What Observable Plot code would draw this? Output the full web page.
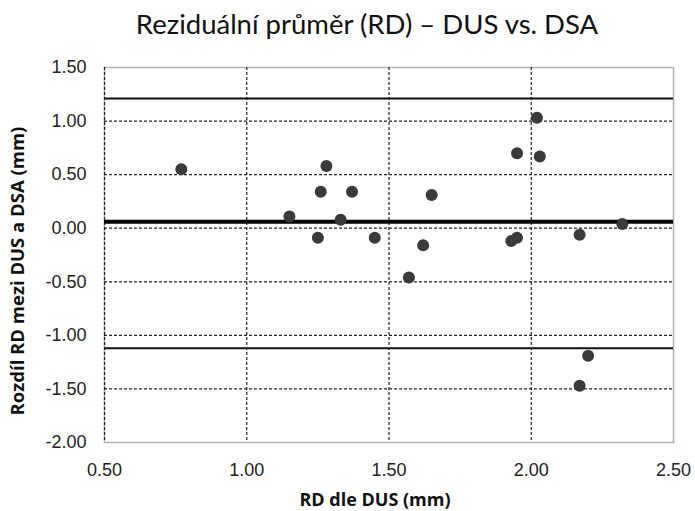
<!DOCTYPE html>
<html><head><meta charset="utf-8">
<script src="https://cdn.jsdelivr.net/npm/d3@7"></script>
<script src="https://cdn.jsdelivr.net/npm/@observablehq/plot@0.6"></script>
<style>body{margin:0;background:#fff}</style>
</head><body><div id="chart"></div>
<script>
const title = "Reziduální průměr (RD) – DUS vs. DSA";
const xLabel = "RD dle DUS (mm)";
const yLabel = "Rozdíl RD mezi DUS a DSA (mm)";
const rdDus = [0.77, 1.28, 1.26, 1.37, 1.15, 1.33, 1.25, 1.45, 2.02, 1.95, 2.03, 1.65, 1.62, 1.93, 1.95, 2.17, 2.32, 1.57, 2.20, 2.17];
const diff  = [0.55, 0.58, 0.34, 0.34, 0.11, 0.08, -0.09, -0.09, 1.03, 0.70, 0.67, 0.31, -0.16, -0.12, -0.09, -0.06, 0.04, -0.46, -1.19, -1.47];
const meanDiff = 0.06;
const upperLoA = 1.21;
const lowerLoA = -1.12;
const xTicks = [0.5, 1.0, 1.5, 2.0, 2.5];
const yTicks = [1.5, 1.0, 0.5, 0.0, -0.5, -1.0, -1.5, -2.0];
const xGrid = [0.5, 1.0, 1.5, 2.0];
const yGrid = [1.0, 0.5, 0.0, -0.5, -1.0, -1.5];

const points = rdDus.map((x, i) => ({x, y: diff[i]}));
const fmt = d => d.toFixed(2);
const grid = {stroke: "#222", strokeDasharray: "3,2", strokeWidth: 1.2, strokeOpacity: 1};
const tickFont = "'Liberation Sans', Arial, sans-serif";
const labelFont = "'Open Sans', sans-serif";

const chart = Plot.plot({
  width: 695, height: 511,
  marginTop: 67, marginLeft: 104, marginRight: 22, marginBottom: 69,
  style: {fontFamily: tickFont, fontSize: "18px", color: "#222", background: "#fff"},
  x: {domain: [0.5, 2.5]},
  y: {domain: [-2, 1.5]},
  marks: [
    Plot.frame({stroke: "#b0b0b0", strokeWidth: 1.5}),
    Plot.ruleX(xGrid, grid),
    Plot.ruleY(yGrid, grid),
    Plot.ruleY([upperLoA, lowerLoA], {stroke: "#111", strokeWidth: 2}),
    Plot.ruleY([meanDiff], {stroke: "#000", strokeWidth: 4}),
    Plot.dot(points, {x: "x", y: "y", r: 6, fill: "#3a3a3a", stroke: "none"}),
    Plot.axisX({ticks: xTicks, tickFormat: fmt, tickSize: 0, tickPadding: 21, label: null, fontSize: 18, fill: "#222"}),
    Plot.axisY({ticks: yTicks, tickFormat: fmt, tickSize: 0, tickPadding: 18, label: null, fontSize: 18, fill: "#222"}),
    Plot.text([title], {frameAnchor: "top", dx: -22, dy: -42, fontSize: 27.5, fontFamily: "Lato, 'Open Sans', sans-serif", fill: "#111", lineAnchor: "middle", textAnchor: "middle"}),
    Plot.text([xLabel], {frameAnchor: "bottom", dx: -14, dy: 58, fontSize: 18, fontWeight: "bold", fontFamily: labelFont, fill: "#111", lineAnchor: "middle", textAnchor: "middle"}),
    Plot.text([yLabel], {frameAnchor: "left", dx: -86, dy: 16, rotate: -90, fontSize: 18.5, fontWeight: "bold", fontFamily: labelFont, fill: "#111", lineAnchor: "middle", textAnchor: "middle"})
  ]
});
document.getElementById("chart").appendChild(chart);
</script>
</body></html>
